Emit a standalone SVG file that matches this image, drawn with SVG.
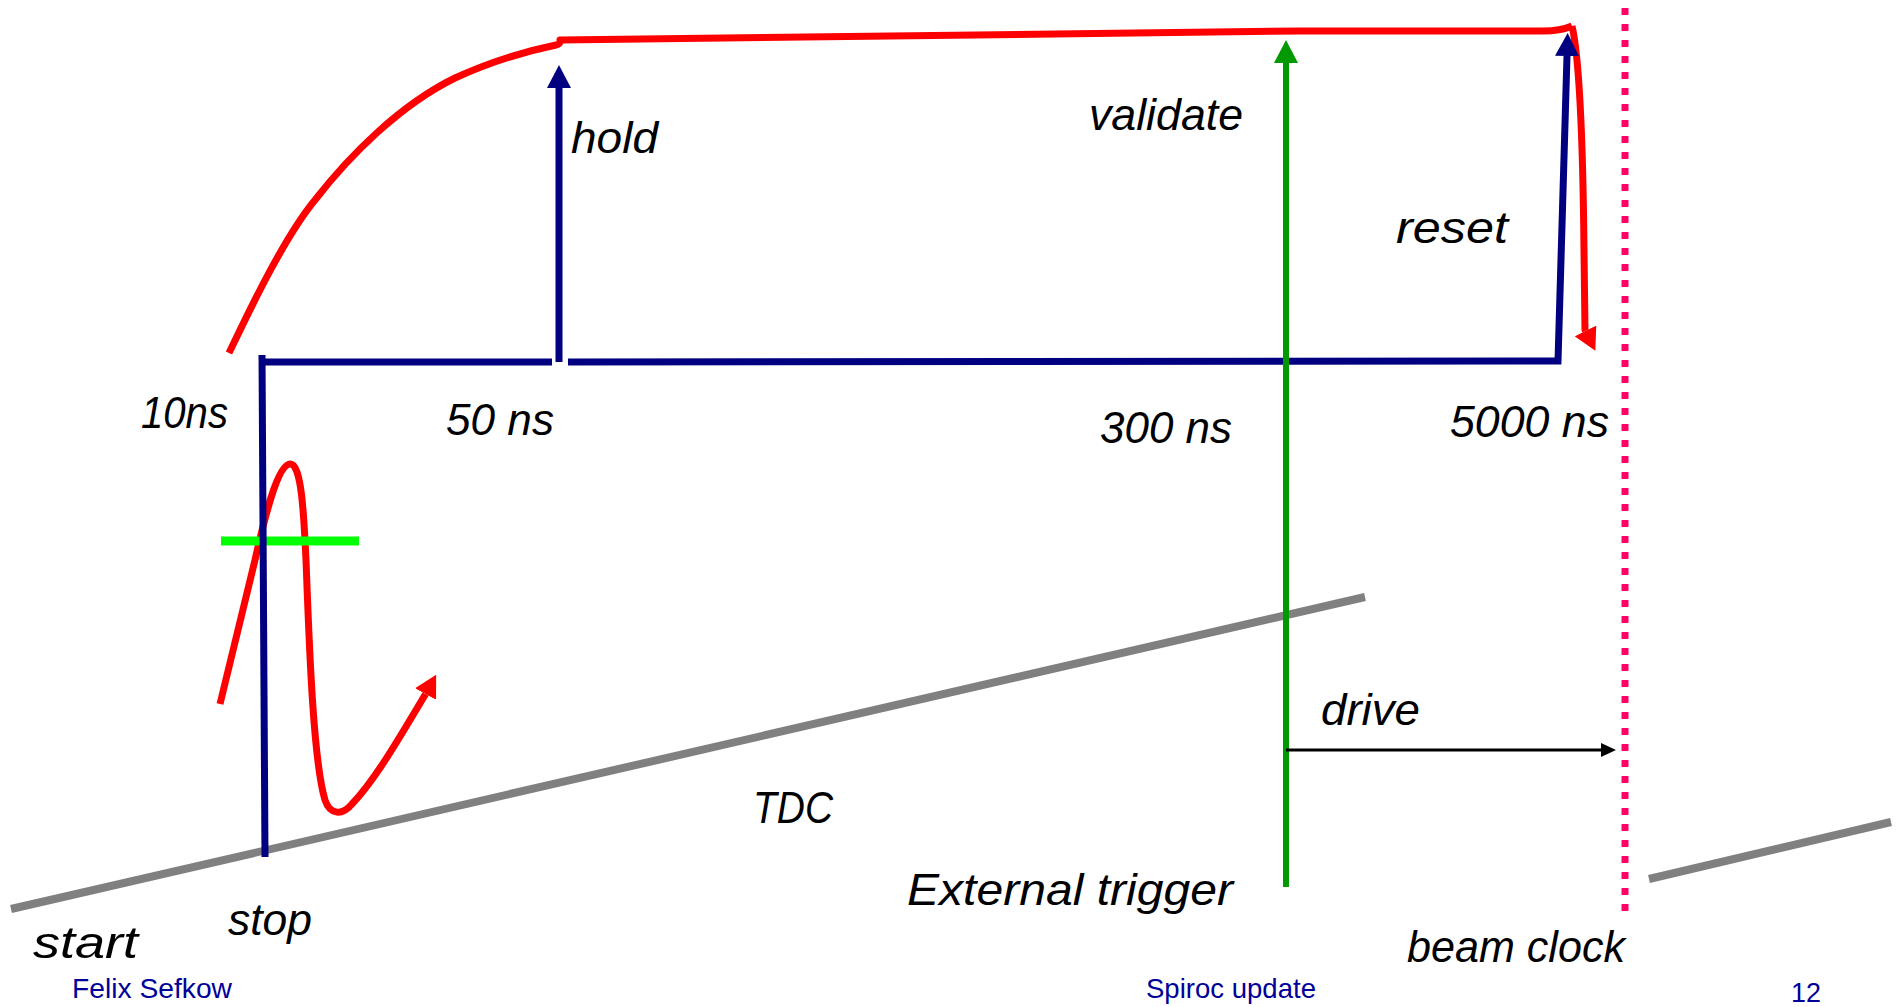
<svg xmlns="http://www.w3.org/2000/svg" width="1897" height="1007" viewBox="0 0 1897 1007">
  <defs>
    <style>
      .lbl { font-family: "Liberation Sans", Arial, sans-serif; font-style: italic; font-size: 44px; fill: #000; }
      .foot { font-family: "Liberation Sans", Arial, sans-serif; font-size: 28px; fill: #000099; }
      .navy { stroke: #000080; stroke-width: 7; fill: none; }
      .red { stroke: #FF0000; stroke-width: 7; fill: none; stroke-linejoin: round; }
      .green { stroke: #009900; stroke-width: 6; fill: none; }
      .grey { stroke: #808080; stroke-width: 8; fill: none; }
      .lime { stroke: #00FF00; stroke-width: 9; fill: none; }
      .pink { stroke: #FF0066; stroke-width: 7; fill: none; stroke-dasharray: 7 9; }
      .blk { stroke: #000; stroke-width: 3; fill: none; }
    </style>
    <marker id="ah-navy" markerUnits="userSpaceOnUse" markerWidth="24" markerHeight="24" refX="0" refY="12" orient="auto">
      <path d="M0,0 L23,12 L0,24 z" fill="#000080"/>
    </marker>
    <marker id="ah-green" markerUnits="userSpaceOnUse" markerWidth="24" markerHeight="24" refX="0" refY="12" orient="auto">
      <path d="M0,0 L23,12 L0,24 z" fill="#009900"/>
    </marker>
    <marker id="ah-red" markerUnits="userSpaceOnUse" markerWidth="24" markerHeight="24" refX="0" refY="12" orient="auto">
      <path d="M0,0 L22,12 L0,24 z" fill="#FF0000"/>
    </marker>
    <marker id="ah-black" markerUnits="userSpaceOnUse" markerWidth="16" markerHeight="16" refX="0" refY="7" orient="auto">
      <path d="M0,0 L15,7 L0,14 z" fill="#000"/>
    </marker>
  </defs>

  <g id="connectors">
    <!-- TDC ramp -->
    <line id="tdc-ramp" class="grey" x1="11" y1="909" x2="1365" y2="597"/>
    <line id="tdc-ramp-2" class="grey" x1="1649" y1="879" x2="1891" y2="822"/>
    <!-- beam clock dotted -->
    <line id="beam-clock-line" class="pink" x1="1625" y1="8" x2="1625" y2="912"/>
    <!-- shaper signal -->
    <path id="shaper" class="red" d="M229,353 C245,320 282,240 315,200 C350,155 400,105 455,78 C490,62 522,52 556,45 Q561,44 560,40 L1300,31 L1543,31 C1555,31 1565,29 1572,26"/>
    <path id="reset-drop" class="red" d="M1572,26 C1580,60 1583,150 1584,250 L1585,330 l0.5,1" marker-end="url(#ah-red)"/>
    <!-- fast signal waveform -->
    <path id="fast-signal" class="red" d="M220,704 L255,560 C262,530 276,465 290,464 C302,463 304,520 306,560 C309,640 313,760 325,800 C330,815 342,816 352,804 C375,780 400,737 425,695 l0.55,-1" marker-end="url(#ah-red)"/>
    <!-- threshold -->
    <line id="threshold" class="lime" x1="221" y1="541" x2="359" y2="541"/>
    <!-- navy timing -->
    <line id="stop-line" class="navy" x1="262" y1="355" x2="265" y2="857"/>
    <line id="gate-left" class="navy" x1="259" y1="362" x2="552" y2="362"/>
    <path id="gate-right" class="navy" d="M568,362 L1558,361 L1567,56" stroke-linejoin="miter" marker-end="url(#ah-navy)"/>
    <line id="hold-arrow" class="navy" x1="559" y1="362" x2="559" y2="88" marker-end="url(#ah-navy)"/>
    <!-- validate / external trigger -->
    <line id="validate-arrow" class="green" x1="1286" y1="887" x2="1286" y2="63" marker-end="url(#ah-green)"/>
    <!-- drive -->
    <line id="drive-arrow" class="blk" x1="1286" y1="750" x2="1601" y2="750" marker-end="url(#ah-black)"/>
  </g>

  <g id="label-hold"><text class="lbl" x="571" y="153" textLength="87" lengthAdjust="spacingAndGlyphs">hold</text></g>
  <g id="label-validate"><text class="lbl" x="1089" y="130" textLength="154" lengthAdjust="spacingAndGlyphs">validate</text></g>
  <g id="label-reset"><text class="lbl" x="1396" y="243" textLength="112" lengthAdjust="spacingAndGlyphs">reset</text></g>
  <g id="label-10ns"><text class="lbl" x="141" y="428" textLength="87" lengthAdjust="spacingAndGlyphs">10ns</text></g>
  <g id="label-50ns"><text class="lbl" x="446" y="435" textLength="108" lengthAdjust="spacingAndGlyphs">50 ns</text></g>
  <g id="label-300ns"><text class="lbl" x="1100" y="443" textLength="132" lengthAdjust="spacingAndGlyphs">300 ns</text></g>
  <g id="label-5000ns"><text class="lbl" x="1450" y="437" textLength="159" lengthAdjust="spacingAndGlyphs">5000 ns</text></g>
  <g id="label-drive"><text class="lbl" x="1321" y="725" textLength="99" lengthAdjust="spacingAndGlyphs">drive</text></g>
  <g id="label-tdc"><text class="lbl" x="753" y="823" textLength="80" lengthAdjust="spacingAndGlyphs">TDC</text></g>
  <g id="label-ext-trigger"><text class="lbl" x="907" y="905" textLength="326" lengthAdjust="spacingAndGlyphs">External trigger</text></g>
  <g id="label-start"><text class="lbl" x="33" y="958" textLength="105" lengthAdjust="spacingAndGlyphs">start</text></g>
  <g id="label-stop"><text class="lbl" x="228" y="935" textLength="84" lengthAdjust="spacingAndGlyphs">stop</text></g>
  <g id="label-beam-clock"><text class="lbl" x="1407" y="962" textLength="218" lengthAdjust="spacingAndGlyphs">beam clock</text></g>

  <g id="footer">
    <text class="foot" x="72" y="998" textLength="160" lengthAdjust="spacingAndGlyphs">Felix Sefkow</text>
    <text class="foot" x="1146" y="998" textLength="170" lengthAdjust="spacingAndGlyphs">Spiroc update</text>
    <text class="foot" x="1791" y="1002" textLength="30" lengthAdjust="spacingAndGlyphs">12</text>
  </g>
</svg>
